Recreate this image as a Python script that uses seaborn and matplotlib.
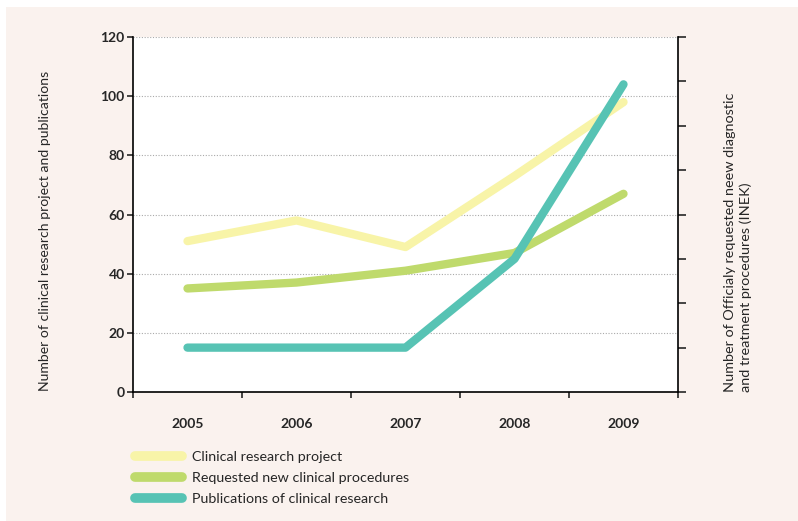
import pandas as pd
import matplotlib
matplotlib.use('Agg')
import matplotlib.pyplot as plt
import seaborn as sns
from matplotlib.patches import Rectangle

# values
years = [2005, 2006, 2007, 2008, 2009]
clinical_projects = [51, 58, 49, 73, 98]
requested_procedures = [35, 37, 41, 47, 67]
publications = [15, 15, 15, 45, 104]

series_names = ['Clinical research project',
                'Requested new clinical procedures',
                'Publications of clinical research']
series_colors = ['#F8F4A8', '#BFDA6C', '#57C3B4']

data = pd.DataFrame({
    'Year': years * 3,
    'Value': clinical_projects + requested_procedures + publications,
    'Series': [series_names[0]] * 5 + [series_names[1]] * 5 + [series_names[2]] * 5,
})

sns.set_style('white')
plt.rcParams['font.family'] = ['Lato', 'DejaVu Sans']

fig = plt.figure(figsize=(7.98, 5.21), dpi=100)
fig.patch.set_facecolor('white')
fig.patches.append(Rectangle((6 / 798, 0), 1, (521 - 7) / 521, transform=fig.transFigure,
                             facecolor='#FAF2EE', edgecolor='none', zorder=-10))

ax = fig.add_axes([133 / 798, (521 - 392) / 521, (678 - 133) / 798, 355 / 521])
ax.set_facecolor('white')

sns.lineplot(data=data, x='Year', y='Value', hue='Series', hue_order=series_names,
             palette=dict(zip(series_names, series_colors)), linewidth=6,
             solid_capstyle='round', solid_joinstyle='round', ax=ax, legend=True)

# x axis: category boundaries as tick marks, years as labels
ax.set_xlim(2004.5, 2009.5)
ax.set_xticks([y - 0.5 for y in years] + [2009.5])
ax.set_xticklabels([])
ax.set_xticks(years, minor=True)
ax.set_xticklabels([str(y) for y in years], minor=True, fontweight='bold', fontsize=10)
ax.tick_params(axis='x', which='major', direction='out', length=4, width=1.2, bottom=True)
ax.tick_params(axis='x', which='minor', length=0, pad=19)

ax.set_ylim(0, 120)
ax.set_yticks(range(0, 121, 20))
ax.set_yticklabels([str(v) for v in range(0, 121, 20)], fontweight='bold', fontsize=10)
ax.tick_params(axis='y', direction='out', length=4, width=1.2, left=True, pad=2)
ax.yaxis.grid(True, linestyle=(0, (1, 1.5)), color='#AAAAAA', linewidth=0.8)
ax.xaxis.grid(False)

for side in ['left', 'bottom']:
    ax.spines[side].set_color('black')
    ax.spines[side].set_linewidth(1.2)
ax.spines['top'].set_visible(False)
ax.spines['right'].set_visible(False)
ax.set_xlabel('')
ax.set_ylabel('')

# right axis, ticks only
ax2 = ax.twinx()
ax2.set_ylim(0, 800)
ax2.set_yticks(range(0, 801, 100))
ax2.set_yticklabels([])
ax2.tick_params(axis='y', direction='out', length=6, width=1.2, right=True)
for side in ['left', 'bottom', 'top']:
    ax2.spines[side].set_visible(False)
ax2.spines['right'].set_color('black')
ax2.spines['right'].set_linewidth(1.2)
ax2.grid(False)

fig.text(45 / 798, (521 - 391) / 521, 'Number of clinical research project and publications',
         rotation=90, ha='center', va='bottom', fontsize=10.1)
fig.text(738 / 798, (521 - 392) / 521,
         'Number of Officialy requested neew diagnostic\nand treatment procedures (INEK)',
         rotation=90, ha='center', va='bottom', multialignment='left', fontsize=10.4,
         linespacing=1.4)

handles, labels = ax.get_legend_handles_labels()
ax.get_legend().remove()
leg = fig.legend(handles, labels, loc='upper left', bbox_to_anchor=(122 / 798, (521 - 438) / 521),
                 frameon=False, fontsize=10.3, handlelength=3.3, handletextpad=0.7,
                 labelspacing=0.62)
for line in leg.get_lines():
    line.set_linewidth(7)
    line.set_solid_capstyle('round')

fig.savefig('out.png', dpi=100, facecolor=fig.get_facecolor())
